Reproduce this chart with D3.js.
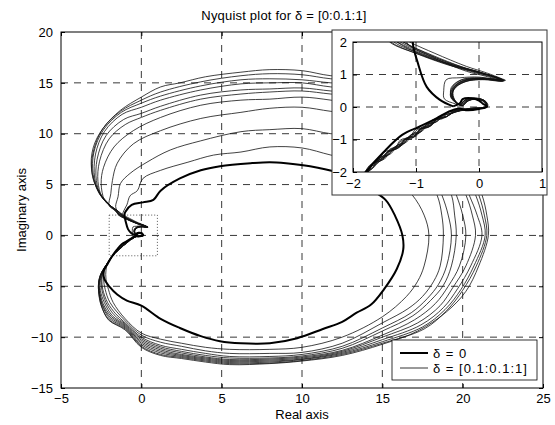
<!DOCTYPE html>
<html><head><meta charset="utf-8">
<script src="https://cdn.jsdelivr.net/npm/d3@7"></script>
<style>
body{margin:0;background:#fff}
svg{display:block;font-family:"Liberation Sans",Arial,sans-serif}
</style>
</head><body>
<svg id="chart" width="555" height="425"></svg>
<script>
// Axis ticks
const xTicks = [-5, 0, 5, 10, 15, 20, 25];
const yTicks = [-15, -10, -5, 0, 5, 10, 15, 20];
const insetXTicks = [-2, -1, 0, 1];
const insetYTicks = [-2, -1, 0, 1, 2];
const legendLabels = ["\u03b4 = 0", "\u03b4 = [0.1:0.1:1]"];

// Frequency response traces [re, im]; delta00 is the nominal (delta = 0) case
const delta00 = [[-0.41,0.02],[-0.3,0.12],[-0.26,0.24],[-0.12,0.27],[0.0,0.2],[0.06,0.1],[0.13,0.01],[0.0,-0.06],[-0.18,-0.1],[-0.33,-0.05],[-0.49,-0.15],[-0.67,-0.34],[-0.94,-0.6],[-1.22,-0.86],[-1.52,-1.4],[-1.8,-2.0],[-2.1,-2.8],[-2.35,-3.5],[-2.3,-4.3],[-2.0,-5.0],[-1.5,-5.8],[-0.9,-6.4],[0,-6.9],[1.2,-8.2],[2.4,-9.1],[3.7,-9.9],[4.9,-10.4],[6.2,-10.6],[8.0,-10.6],[9.7,-10.1],[11.3,-9.2],[12.5,-8.5],[13.4,-7.6],[14.3,-6.8],[15.1,-5.3],[15.9,-3.3],[16.3,-1.4],[16.25,0],[15.8,1.9],[15.2,3.5],[14.2,4.6],[13.4,5.5],[12.2,6.2],[10.5,6.8],[9,7.1],[8.0,7.2],[6.8,7.1],[4.9,6.8],[3.7,6.4],[2.4,5.6],[1.2,4.4],[0.75,3.5],[0.1,3.25],[-0.6,3.0],[-1.0,2.3],[-1.05,2.0],[-0.97,1.35],[-0.83,0.62],[-0.62,0.22],[-0.41,0.02]];

const delta01 = [[-0.3,0.05],[-0.22,0.2],[-0.05,0.24],[0.08,0.15],[0.1,0.02],[-0.1,-0.05],[-0.38,-0.12],[-0.5,-0.18],[-0.58,-0.36],[-0.72,-0.42],[-0.82,-0.62],[-0.98,-0.7],[-1.08,-0.92],[-1.24,-1.05],[-1.33,-1.3],[-1.48,-1.42],[-1.6,-1.72],[-1.72,-1.85],[-1.85,-2.15],[-2.1,-2.75],[-2.2,-3.4],[-2.2,-4.3],[-2.05,-5.3],[-1.75,-6.6],[-1.0,-8.2],[0,-9.6],[1.2,-10.2],[2.5,-10.6],[4,-11.0],[5.5,-11.2],[8,-11.2],[10,-11.0],[12.5,-10.0],[15,-8.0],[16.5,-6.0],[17.2,-4.5],[17.6,-3.0],[17.9,0],[17.6,2],[16.85,4],[15.6,5.8],[13.6,7.3],[11.8,7.9],[10,8.6],[8,8.7],[6.2,8.2],[4.5,7.9],[2.9,7.2],[1.2,6.4],[0.1,5.6],[-0.25,4.4],[-0.7,3.9],[-0.9,3.0],[-1.1,2.4],[-1.15,2.0],[-0.7,1.5],[-0.2,1.1],[0.1,0.95],[0.32,0.82],[0.0,0.92],[-0.3,0.9],[-0.52,0.84],[-0.56,0.5],[-0.55,0.25],[-0.38,0.1],[-0.3,0.05]];

const delta02 = [[-0.25,0.04],[-0.15,0.21],[0.02,0.23],[0.1,0.12],[0.11,0.0],[-0.12,-0.05],[-0.42,-0.17],[-0.52,-0.3],[-0.66,-0.36],[-0.76,-0.56],[-0.92,-0.64],[-1.0,-0.86],[-1.16,-0.96],[-1.26,-1.2],[-1.42,-1.3],[-1.52,-1.56],[-1.66,-1.7],[-1.76,-1.98],[-1.92,-2.2],[-2.15,-2.85],[-2.3,-3.5],[-2.35,-4.3],[-2.25,-5.3],[-1.95,-6.6],[-1.0,-8.4],[0,-9.8],[1.2,-10.5],[2.5,-10.9],[4,-11.35],[5.5,-11.6],[8,-11.6],[10,-11.5],[12.5,-10.6],[15,-8.6],[16.6,-7.2],[17.5,-6.0],[18.2,-4.5],[18.6,-3.0],[18.8,0],[18.7,2],[18.4,4],[17.3,7],[15.5,9.0],[13.5,9.9],[11.8,10.0],[10,10.5],[8,10.4],[6.2,10.2],[3.7,9.3],[1.8,8.4],[0.35,7.2],[-0.7,6.1],[-1.3,5.1],[-1.45,3.8],[-1.6,2.85],[-1.5,2.4],[-1.3,2.0],[-0.9,1.6],[-0.4,1.25],[-0.05,1.05],[0.2,0.92],[0.38,0.8],[0.05,0.86],[-0.2,0.82],[-0.38,0.62],[-0.42,0.35],[-0.33,0.1],[-0.25,0.04]];

const delta03 = [[-0.28,0.06],[-0.2,0.24],[-0.02,0.27],[0.1,0.17],[0.12,0.03],[-0.06,-0.06],[-0.36,-0.08],[-0.47,-0.2],[-0.6,-0.26],[-0.7,-0.48],[-0.85,-0.56],[-0.95,-0.8],[-1.1,-0.88],[-1.2,-1.15],[-1.35,-1.24],[-1.45,-1.5],[-1.6,-1.6],[-1.7,-1.9],[-1.83,-2.08],[-2.08,-2.65],[-2.35,-3.4],[-2.45,-4.3],[-2.4,-5.3],[-2.1,-6.6],[-1.6,-7.7],[-1.0,-8.6],[0,-10.0],[1.2,-10.8],[2.5,-11.2],[4,-11.6],[5.5,-11.9],[8,-11.9],[10,-11.7],[12.5,-10.9],[15,-9.1],[16.8,-7.6],[17.8,-6.2],[18.5,-4.8],[19.0,-3.0],[19.3,0],[19.1,2],[18.7,4],[17.8,7],[16.5,10],[14.2,11.8],[11.8,12.2],[10,12.6],[8,12.5],[6.2,12.1],[3.7,11.5],[1.2,10.3],[-0.5,9.0],[-1.5,7.1],[-1.8,5.4],[-1.9,4.1],[-2.0,2.9],[-1.6,2.45],[-1.4,2.0],[-1.0,1.65],[-0.5,1.3],[-0.1,1.1],[0.2,0.95],[0.4,0.82],[0.1,0.88],[-0.15,0.85],[-0.35,0.7],[-0.45,0.4],[-0.35,0.12],[-0.28,0.06]];

const delta04 = [[-0.26,0.03],[-0.18,0.19],[0.0,0.25],[0.12,0.14],[0.1,-0.01],[-0.14,-0.04],[-0.44,-0.2],[-0.55,-0.33],[-0.7,-0.4],[-0.8,-0.62],[-0.95,-0.7],[-1.05,-0.95],[-1.2,-1.02],[-1.3,-1.28],[-1.45,-1.38],[-1.55,-1.64],[-1.7,-1.78],[-1.8,-2.05],[-1.95,-2.3],[-2.18,-2.95],[-2.4,-3.6],[-2.5,-4.4],[-2.45,-5.4],[-2.2,-6.6],[-1.7,-7.8],[-1.0,-8.7],[0,-10.15],[1.2,-10.95],[2.5,-11.4],[4,-11.8],[5.5,-12.05],[8,-12.05],[10,-11.85],[12.5,-11.1],[15,-9.4],[16.9,-7.9],[18.0,-6.4],[18.8,-4.9],[19.3,-3.0],[19.6,0],[19.5,2],[19.3,4],[18.4,7],[17.2,10],[15,12.5],[11.8,13.3],[10,13.6],[8,13.4],[6.2,13.3],[3.7,12.8],[1.2,11.6],[-0.5,10.3],[-1.7,8.7],[-2.35,6.7],[-2.5,5.1],[-2.3,3.5],[-1.9,2.8],[-1.55,2.3],[-1.3,2.0],[-0.85,1.6],[-0.35,1.25],[0.0,1.05],[0.25,0.92],[0.36,0.8],[0.05,0.84],[-0.22,0.78],[-0.4,0.55],[-0.4,0.28],[-0.32,0.08],[-0.26,0.03]];

const delta05 = [[-0.3,0.07],[-0.21,0.23],[-0.04,0.26],[0.09,0.16],[0.13,0.02],[-0.08,-0.07],[-0.34,-0.06],[-0.44,-0.2],[-0.57,-0.24],[-0.66,-0.44],[-0.82,-0.52],[-0.9,-0.74],[-1.06,-0.82],[-1.15,-1.08],[-1.3,-1.18],[-1.4,-1.44],[-1.56,-1.54],[-1.66,-1.84],[-1.8,-2.02],[-2.05,-2.6],[-2.4,-3.5],[-2.55,-4.4],[-2.55,-5.4],[-2.3,-6.6],[-1.8,-7.9],[-1.0,-8.8],[0,-10.3],[1.2,-11.1],[2.5,-11.55],[4,-11.95],[5.5,-12.2],[8,-12.15],[10,-11.95],[12.5,-11.3],[15,-9.8],[17.0,-8.3],[18.3,-6.7],[19.1,-5.0],[19.8,-3.0],[20.2,0],[20.0,2],[19.6,4],[18.8,7],[17.7,10],[15.5,12.8],[13.5,13.7],[11.8,13.9],[10,14.2],[8,14.1],[6.2,13.9],[3.7,13.4],[1.2,12.3],[0,11.6],[-1.0,10.9],[-2.0,9.5],[-2.6,7.3],[-2.7,5.3],[-2.45,3.8],[-1.95,2.9],[-1.55,2.4],[-1.25,2.0],[-0.8,1.6],[-0.3,1.25],[0.05,1.05],[0.3,0.9],[0.4,0.8],[0.1,0.86],[-0.18,0.8],[-0.36,0.62],[-0.44,0.32],[-0.36,0.12],[-0.3,0.07]];

const delta06 = [[-0.27,0.05],[-0.17,0.2],[0.01,0.24],[0.11,0.13],[0.1,0.0],[-0.1,-0.03],[-0.4,-0.16],[-0.5,-0.28],[-0.65,-0.34],[-0.75,-0.54],[-0.9,-0.62],[-1.0,-0.86],[-1.14,-0.96],[-1.24,-1.2],[-1.4,-1.3],[-1.5,-1.56],[-1.64,-1.68],[-1.76,-1.96],[-1.88,-2.22],[-2.12,-2.82],[-2.45,-3.6],[-2.6,-4.5],[-2.6,-5.4],[-2.38,-6.7],[-1.85,-8.0],[-1.0,-8.9],[0,-10.45],[1.2,-11.25],[2.5,-11.7],[4,-12.05],[5.5,-12.3],[8,-12.25],[10,-12.05],[12.5,-11.4],[15,-10.0],[17.2,-8.6],[18.6,-6.9],[19.4,-5.1],[20.2,-3.0],[20.8,0],[20.6,2],[20.2,4],[19.3,7],[18.2,10],[16,13],[13.8,14.0],[11.8,14.2],[10,14.5],[8,14.4],[6.2,14.3],[3.7,13.8],[1.2,12.7],[0,12.0],[-1.1,11.4],[-2.2,9.8],[-2.75,7.5],[-2.8,5.4],[-2.5,3.9],[-1.95,2.95],[-1.5,2.45],[-1.2,2.0],[-0.75,1.6],[-0.25,1.22],[0.1,1.02],[0.33,0.88],[0.38,0.8],[0.02,0.87],[-0.25,0.82],[-0.42,0.58],[-0.42,0.3],[-0.33,0.09],[-0.27,0.05]];

const delta07 = [[-0.29,0.06],[-0.22,0.22],[-0.06,0.27],[0.1,0.18],[0.14,0.04],[-0.05,-0.06],[-0.37,-0.11],[-0.5,-0.16],[-0.6,-0.34],[-0.74,-0.4],[-0.84,-0.62],[-1.0,-0.68],[-1.1,-0.92],[-1.25,-1.02],[-1.34,-1.3],[-1.5,-1.38],[-1.6,-1.66],[-1.74,-1.8],[-1.84,-2.12],[-2.1,-2.7],[-2.45,-3.6],[-2.62,-4.5],[-2.62,-5.4],[-2.42,-6.8],[-1.9,-8.1],[-1.0,-9.0],[0,-10.6],[1.2,-11.4],[2.5,-11.8],[4,-12.15],[5.5,-12.4],[8,-12.35],[10,-12.15],[12.5,-11.5],[15,-10.25],[17.4,-8.8],[18.8,-7.1],[19.7,-5.2],[20.5,-3.0],[21.2,0],[20.9,2],[20.4,4],[19.6,7],[18.6,10],[16.4,13.2],[14,14.4],[11.8,14.6],[10,15.0],[8,15.0],[6.2,14.9],[3.7,14.3],[1.2,13.3],[0,12.6],[-1.2,11.9],[-2.3,10.2],[-2.85,8.0],[-2.9,5.6],[-2.55,4.0],[-1.95,2.95],[-1.5,2.45],[-1.1,2.0],[-0.7,1.65],[-0.2,1.25],[0.12,1.05],[0.35,0.88],[0.42,0.82],[0.1,0.85],[-0.2,0.8],[-0.38,0.6],[-0.43,0.35],[-0.35,0.11],[-0.29,0.06]];

const delta08 = [[-0.25,0.04],[-0.16,0.2],[0.03,0.23],[0.12,0.12],[0.11,-0.02],[-0.13,-0.05],[-0.43,-0.19],[-0.53,-0.32],[-0.68,-0.38],[-0.78,-0.6],[-0.93,-0.68],[-1.03,-0.92],[-1.18,-1.0],[-1.28,-1.26],[-1.43,-1.35],[-1.53,-1.62],[-1.68,-1.74],[-1.78,-2.02],[-1.9,-2.27],[-2.15,-2.9],[-2.5,-3.7],[-2.65,-4.6],[-2.64,-5.5],[-2.45,-6.8],[-1.95,-8.2],[-1.0,-9.1],[0,-10.75],[1.2,-11.55],[2.5,-11.9],[4,-12.25],[5.5,-12.5],[8,-12.45],[10,-12.2],[12.5,-11.6],[15,-10.45],[17.5,-9.0],[18.9,-7.3],[19.9,-5.3],[20.7,-3.0],[21.4,0],[21.2,2],[20.8,4],[19.9,7],[18.9,10],[16.8,13.4],[14.2,14.8],[11.8,15.0],[10,15.3],[8,15.4],[6.2,15.3],[3.7,14.7],[1.2,13.7],[0,13.0],[-1.25,12.1],[-2.35,10.4],[-2.95,8.2],[-3.0,6.0],[-2.6,4.1],[-1.95,2.95],[-1.55,2.45],[-1.35,2.0],[-0.9,1.62],[-0.4,1.28],[0.0,1.08],[0.28,0.9],[0.36,0.84],[0.0,0.9],[-0.28,0.84],[-0.44,0.6],[-0.44,0.32],[-0.32,0.08],[-0.25,0.04]];

const delta09 = [[-0.28,0.05],[-0.19,0.21],[-0.01,0.25],[0.1,0.15],[0.12,0.01],[-0.09,-0.06],[-0.35,-0.09],[-0.46,-0.2],[-0.58,-0.28],[-0.68,-0.46],[-0.83,-0.54],[-0.93,-0.78],[-1.08,-0.86],[-1.18,-1.1],[-1.32,-1.2],[-1.43,-1.46],[-1.58,-1.56],[-1.68,-1.86],[-1.81,-2.06],[-2.07,-2.62],[-2.5,-3.7],[-2.66,-4.6],[-2.66,-5.5],[-2.5,-6.9],[-2.0,-8.3],[-1.0,-9.2],[0,-10.9],[1.2,-11.7],[2.5,-12.0],[4,-12.35],[5.5,-12.6],[8,-12.55],[10,-12.3],[12.5,-11.7],[15,-10.6],[17.6,-9.2],[19.0,-7.4],[20.0,-5.4],[20.85,-3.0],[21.5,0],[21.35,2],[21.0,4],[20.2,7],[19.2,10],[17.1,13.6],[14.5,15.2],[11.8,15.4],[10,15.8],[8,15.9],[6.2,15.7],[3.7,15.1],[1.2,14.1],[0,13.3],[-1.3,12.2],[-2.4,10.5],[-3.0,8.6],[-3.1,6.5],[-2.65,4.2],[-1.95,2.95],[-1.5,2.45],[-1.2,2.0],[-0.8,1.62],[-0.3,1.22],[0.05,1.03],[0.3,0.88],[0.4,0.81],[0.08,0.87],[-0.22,0.83],[-0.4,0.6],[-0.42,0.33],[-0.34,0.1],[-0.28,0.05]];

const delta10 = [[-0.26,0.05],[-0.18,0.22],[0.0,0.26],[0.11,0.16],[0.12,0.02],[-0.11,-0.05],[-0.41,-0.18],[-0.52,-0.3],[-0.66,-0.36],[-0.76,-0.58],[-0.9,-0.66],[-1.0,-0.9],[-1.16,-0.98],[-1.26,-1.24],[-1.4,-1.34],[-1.5,-1.6],[-1.66,-1.72],[-1.76,-2.0],[-1.88,-2.24],[-2.13,-2.85],[-2.35,-3.4],[-2.6,-4.2],[-2.67,-5.2],[-2.5,-6.8],[-2.05,-8.3],[-1.0,-9.3],[0,-11.0],[1.2,-11.8],[2.5,-12.1],[4,-12.45],[5.5,-12.7],[8,-12.6],[10,-12.35],[12.5,-11.8],[15,-10.7],[17.2,-9.4],[19.0,-7.5],[20.2,-5.5],[21.0,-3.0],[21.6,0],[21.5,2],[21.2,4],[20.4,7],[19.5,10],[17.5,13.6],[14.8,15.5],[11.8,15.7],[10,16.2],[8,16.3],[6.2,16.05],[4,15.6],[2.4,15.0],[1.2,14.6],[0,13.6],[-1.3,12.3],[-2.35,10.6],[-2.85,9.0],[-3.1,7.0],[-2.97,5.4],[-2.55,4.1],[-1.93,2.95],[-1.6,2.45],[-1.42,2.0],[-0.95,1.62],[-0.45,1.3],[-0.05,1.1],[0.25,0.92],[0.38,0.83],[0.05,0.88],[-0.25,0.85],[-0.42,0.62],[-0.45,0.3],[-0.33,0.09],[-0.26,0.05]];

const thinTraces = [delta01, delta02, delta03, delta04, delta05, delta06, delta07, delta08, delta09, delta10];

// ---------- layout ----------
const svg = d3.select("#chart");
const font = "Liberation Sans, Arial, sans-serif";
const plot = {l: 61, r: 543, t: 32, b: 388};
const x = d3.scaleLinear().domain([-5, 25]).range([plot.l, plot.r]);
const y = d3.scaleLinear().domain([-15, 20]).range([plot.b, plot.t]);

const inBox = {l: 332, r: 547, t: 30, b: 195};
const ip = {l: 353, r: 542, t: 42, b: 172};
const ix = d3.scaleLinear().domain([-2, 1]).range([ip.l, ip.r]);
const iy = d3.scaleLinear().domain([-2, 2]).range([ip.b, ip.t]);

const defs = svg.append("defs");
defs.append("clipPath").attr("id", "clipMain").append("rect")
  .attr("x", plot.l).attr("y", plot.t).attr("width", plot.r - plot.l).attr("height", plot.b - plot.t);
defs.append("clipPath").attr("id", "clipInset").append("rect")
  .attr("x", ip.l).attr("y", ip.t).attr("width", ip.r - ip.l).attr("height", ip.b - ip.t);

svg.append("rect").attr("width", 555).attr("height", 425).attr("fill", "#fff");

const dash = "7,6";
const intFmt = d3.format("d");

// ---------- main axes ----------
function drawGrid(g, sx, sy, xt, yt, box) {
  g.selectAll(".gx").data(xt.filter(v => sx(v) > box.l + 1 && sx(v) < box.r - 1)).join("line")
    .attr("x1", d => sx(d)).attr("x2", d => sx(d)).attr("y1", box.t).attr("y2", box.b)
    .attr("stroke", "#222").attr("stroke-width", 0.9).attr("stroke-dasharray", dash);
  g.selectAll(".gy").data(yt.filter(v => sy(v) > box.t + 1 && sy(v) < box.b - 1)).join("line")
    .attr("y1", d => sy(d)).attr("y2", d => sy(d)).attr("x1", box.l).attr("x2", box.r)
    .attr("stroke", "#222").attr("stroke-width", 0.9).attr("stroke-dasharray", dash);
}

const gMain = svg.append("g");
drawGrid(gMain.append("g"), x, y, xTicks, yTicks, plot);

// dotted outline of the zoomed region
gMain.append("rect")
  .attr("x", x(-2)).attr("y", y(2)).attr("width", x(1) - x(-2)).attr("height", y(-2) - y(2))
  .attr("fill", "none").attr("stroke", "#444").attr("stroke-width", 0.9).attr("stroke-dasharray", "1,2");

const lineMain = d3.line().x(d => x(d[0])).y(d => y(d[1])).curve(d3.curveCatmullRom.alpha(0.5));
const curvesMain = gMain.append("g").attr("clip-path", "url(#clipMain)");
curvesMain.selectAll("path.thin").data(thinTraces).join("path").attr("class", "thin")
  .attr("d", lineMain).attr("fill", "none").attr("stroke", "#111").attr("stroke-width", 0.8);
curvesMain.append("path").datum(delta00).attr("d", lineMain)
  .attr("fill", "none").attr("stroke", "#000").attr("stroke-width", 2);

// axes with inward ticks
function styleAxis(g, fs) {
  g.select(".domain").remove();
  g.selectAll(".tick line").attr("stroke", "#000");
  g.selectAll("text").attr("font-family", font).attr("font-size", fs).attr("fill", "#000");
}
svg.append("g").attr("transform", `translate(0,${plot.b})`)
  .call(d3.axisBottom(x).tickValues(xTicks).tickFormat(intFmt).tickSizeInner(-4).tickSizeOuter(0).tickPadding(6))
  .call(g => styleAxis(g, 13));
svg.append("g").attr("transform", `translate(${plot.l},0)`)
  .call(d3.axisLeft(y).tickValues(yTicks).tickFormat(intFmt).tickSizeInner(-4).tickSizeOuter(0).tickPadding(8))
  .call(g => styleAxis(g, 13));
svg.append("g").attr("transform", `translate(0,${plot.t})`)
  .call(d3.axisTop(x).tickValues(xTicks).tickSizeInner(-4).tickSizeOuter(0).tickFormat(""))
  .call(g => styleAxis(g, 13));
svg.append("g").attr("transform", `translate(${plot.r},0)`)
  .call(d3.axisRight(y).tickValues(yTicks).tickSizeInner(-4).tickSizeOuter(0).tickFormat(""))
  .call(g => styleAxis(g, 13));
svg.append("rect").attr("x", plot.l).attr("y", plot.t).attr("width", plot.r - plot.l).attr("height", plot.b - plot.t)
  .attr("fill", "none").attr("stroke", "#000").attr("stroke-width", 1);

// titles
svg.append("text").attr("x", 284).attr("y", 20).attr("text-anchor", "middle").attr("letter-spacing", 0.2)
  .attr("font-family", font).attr("font-size", 13).text("Nyquist plot for \u03b4 = [0:0.1:1]");
svg.append("text").attr("x", (plot.l + plot.r) / 2).attr("y", 419).attr("text-anchor", "middle")
  .attr("font-family", font).attr("font-size", 13).text("Real axis");
svg.append("text").attr("transform", `translate(26,${(plot.t + plot.b) / 2}) rotate(-90)`).attr("text-anchor", "middle")
  .attr("font-family", font).attr("font-size", 13).text("Imaginary axis");

// ---------- inset ----------
const gIn = svg.append("g");
gIn.append("rect").attr("x", inBox.l).attr("y", inBox.t).attr("width", inBox.r - inBox.l).attr("height", inBox.b - inBox.t)
  .attr("fill", "#fff").attr("stroke", "#333").attr("stroke-width", 1);
drawGrid(gIn.append("g"), ix, iy, insetXTicks, insetYTicks, ip);

const lineIn = d3.line().x(d => ix(d[0])).y(d => iy(d[1])).curve(d3.curveCatmullRom.alpha(0.5));
const curvesIn = gIn.append("g").attr("clip-path", "url(#clipInset)");
curvesIn.selectAll("path.thin").data(thinTraces).join("path").attr("class", "thin")
  .attr("d", lineIn).attr("fill", "none").attr("stroke", "#111").attr("stroke-width", 0.8);
curvesIn.append("path").datum(delta00).attr("d", lineIn)
  .attr("fill", "none").attr("stroke", "#000").attr("stroke-width", 2);

gIn.append("g").attr("transform", `translate(0,${ip.b})`)
  .call(d3.axisBottom(ix).tickValues(insetXTicks).tickFormat(intFmt).tickSizeInner(-4).tickSizeOuter(0).tickPadding(7))
  .call(g => styleAxis(g, 13));
gIn.append("g").attr("transform", `translate(${ip.l},0)`)
  .call(d3.axisLeft(iy).tickValues(insetYTicks).tickFormat(intFmt).tickSizeInner(-4).tickSizeOuter(0).tickPadding(6))
  .call(g => styleAxis(g, 13));
gIn.append("rect").attr("x", ip.l).attr("y", ip.t).attr("width", ip.r - ip.l).attr("height", ip.b - ip.t)
  .attr("fill", "none").attr("stroke", "#000").attr("stroke-width", 1);

// ---------- legend ----------
const leg = svg.append("g").attr("transform", "translate(392,340)");
leg.append("rect").attr("width", 145).attr("height", 40).attr("fill", "#fff").attr("stroke", "#000").attr("stroke-width", 0.8);
leg.selectAll("line.key").data(legendLabels).join("line").attr("class", "key")
  .attr("x1", 8).attr("x2", 36).attr("y1", (d, i) => 13 + i * 15).attr("y2", (d, i) => 13 + i * 15)
  .attr("stroke", "#000").attr("stroke-width", (d, i) => i === 0 ? 2 : 0.8);
leg.selectAll("text").data(legendLabels).join("text")
  .attr("x", 41).attr("y", (d, i) => 17.5 + i * 15).attr("letter-spacing", 1)
  .attr("font-family", font).attr("font-size", 13).text(d => d);
</script>
</body></html>
